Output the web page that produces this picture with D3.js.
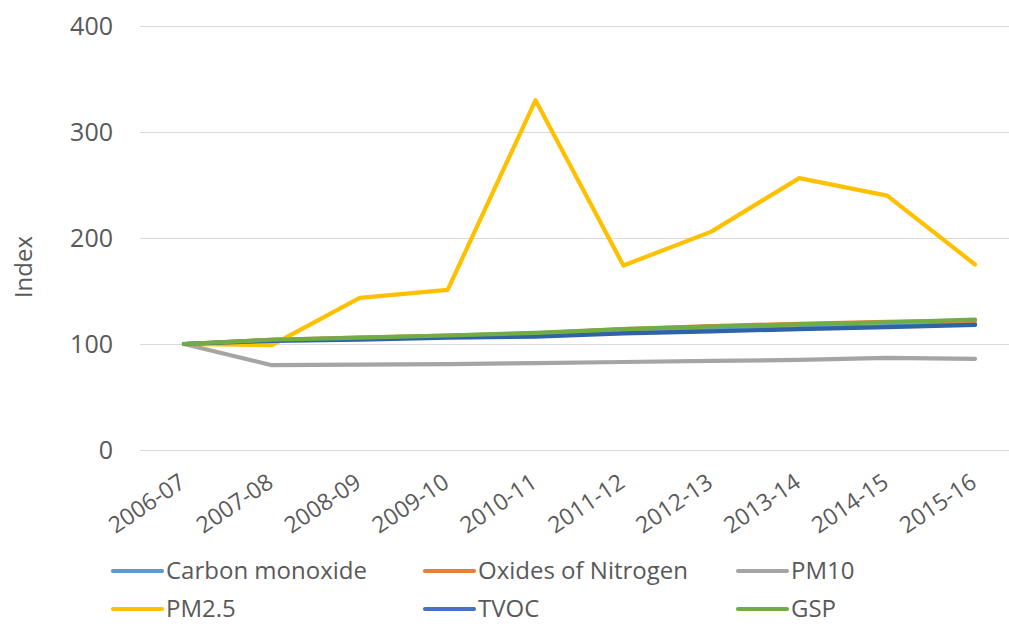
<!DOCTYPE html>
<html>
<head>
<meta charset="utf-8">
<script src="https://cdn.jsdelivr.net/npm/d3@7"></script>
<style>
  html, body { margin: 0; padding: 0; background: #ffffff; }
  svg { display: block; }
  text { font-family: "Open Sans", "Liberation Sans", sans-serif; fill: #595959; }
</style>
</head>
<body>
<svg id="chart" width="1009" height="627"></svg>
<script>
// ---- Data ----
const categories = ["2006-07","2007-08","2008-09","2009-10","2010-11","2011-12","2012-13","2013-14","2014-15","2015-16"];
const carbonMonoxide   = [100, 104, 105, 107, 108, 111, 113, 115, 117, 119];
const oxidesOfNitrogen = [100, 104, 106, 108, 110, 114, 117, 119, 121, 122];
const pm10             = [100, 80, 80.5, 81, 82, 83, 84, 85, 87, 86];
const pm25             = [100, 99, 143.5, 151, 330, 174, 206, 256.5, 240, 175];
const tvoc             = [100, 103, 104, 106, 107, 110, 112, 114, 116, 118];
const gsp              = [100, 104, 106, 108, 110.5, 114, 116.5, 118.5, 120.5, 123];
const yTicks = [0, 100, 200, 300, 400];
const seriesNames = ["Carbon monoxide","Oxides of Nitrogen","PM10","PM2.5","TVOC","GSP"];
const seriesValues = [carbonMonoxide, oxidesOfNitrogen, pm10, pm25, tvoc, gsp];
const seriesColors = ["#5B9BD5","#ED7D31","#A5A5A5","#FFC000","#2F63A6","#70AD47"];
const legendColors = ["#5B9BD5","#ED7D31","#A5A5A5","#FFC000","#4472C4","#70AD47"];
const yTitle = "Index";

// ---- Layout ----
const svg = d3.select("#chart");
const plot = { left: 140, right: 1019, top: 26, bottom: 450 };

const x = d3.scaleBand().domain(categories).range([plot.left, plot.right]);
const xc = c => x(c) + x.bandwidth() / 2;
const y = d3.scaleLinear().domain([0, 400]).range([plot.bottom, plot.top]);

// gridlines
svg.append("g").selectAll("line").data(yTicks).join("line")
  .attr("x1", plot.left).attr("x2", plot.right)
  .attr("y1", d => y(d) + 0.5).attr("y2", d => y(d) + 0.5)
  .attr("stroke", "#D9D9D9").attr("stroke-width", 1);

// y axis labels
const yAxis = d3.axisLeft(y).tickValues(yTicks).tickSize(0).tickPadding(0);
const gy = svg.append("g").attr("transform", "translate(113,0)").call(yAxis);
gy.select(".domain").remove();
gy.selectAll("text")
  .attr("font-size", 25).attr("fill", "#595959")
  .attr("font-family", "'Open Sans', sans-serif")
  .attr("dy", "0.35em");

// y title
svg.append("text")
  .attr("transform", "translate(32,267) rotate(-90)")
  .attr("text-anchor", "middle")
  .attr("font-size", 24)
  .text(yTitle);

// x axis labels
const xAxis = d3.axisBottom(x).tickSize(0).tickPadding(0);
const gx = svg.append("g").attr("transform", "translate(0,486)").call(xAxis);
gx.select(".domain").remove();
gx.selectAll(".tick text")
  .attr("font-size", 23).attr("fill", "#595959")
  .attr("font-family", "'Open Sans', sans-serif")
  .attr("text-anchor", "end")
  .attr("x", 0).attr("y", 0).attr("dy", 0)
  .attr("transform", "translate(3,0) rotate(-34)");

// lines
const line = d3.line().x((d, i) => xc(categories[i])).y(d => y(d));
svg.append("g").selectAll("path").data(seriesValues).join("path")
  .attr("d", d => line(d))
  .attr("fill", "none")
  .attr("stroke", (d, i) => seriesColors[i])
  .attr("stroke-width", 4.2)
  .attr("stroke-linejoin", "round")
  .attr("stroke-linecap", "round");

// legend
const legCols = [113, 425, 738];
const legRows = [571, 609];
const leg = svg.append("g");
seriesNames.forEach((name, i) => {
  const cx = legCols[i % 3], cy = legRows[Math.floor(i / 3)];
  leg.append("line")
    .attr("x1", cx).attr("x2", cx + 49)
    .attr("y1", cy).attr("y2", cy)
    .attr("stroke", legendColors[i]).attr("stroke-width", 4.2)
    .attr("stroke-linecap", "round");
  leg.append("text")
    .attr("x", cx + 53).attr("y", cy)
    .attr("dy", "0.35em")
    .attr("font-size", 24)
    .text(name);
});
</script>
</body>
</html>
